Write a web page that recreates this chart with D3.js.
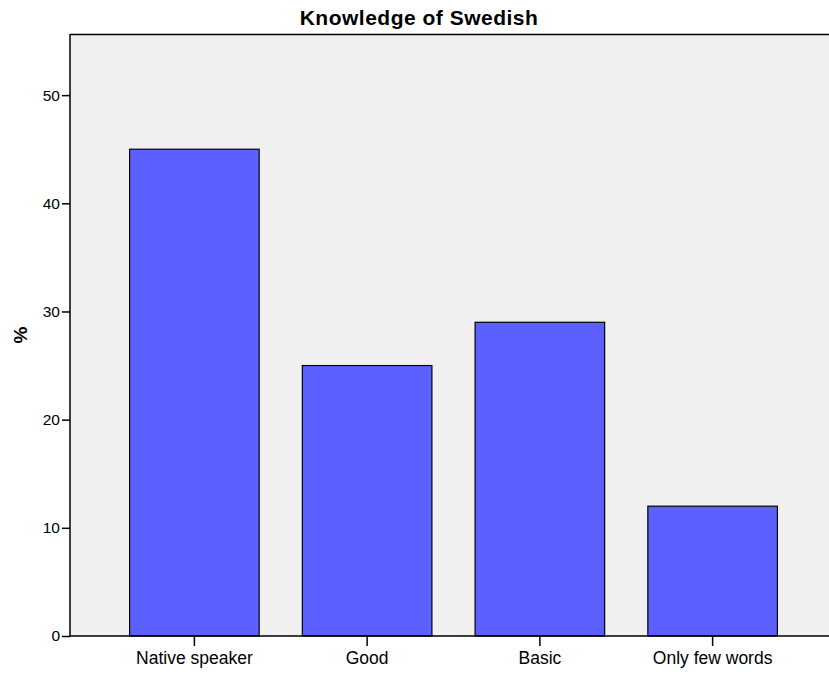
<!DOCTYPE html>
<html><head><meta charset="utf-8">
<script src="https://cdn.jsdelivr.net/npm/d3@7"></script>
<style>body{margin:0;background:#fff;} text{font-family:"Liberation Sans",Arial,sans-serif;}</style>
</head><body>
<svg id="c" width="829" height="675"></svg>
<script>
const categories = ["Native speaker","Good","Basic","Only few words"];
const values = [45, 25, 29, 12];
const yTicks = [0,10,20,30,40,50];

(function(){
const svg = d3.select("#c");
const pL = 70, pT = 34, pB = 636, pR = 837;
const y = d3.scaleLinear().domain([0, 55.65]).range([pB, pT]);
const x = d3.scaleBand().domain(categories).range([pL + 38, pR - 38]).paddingInner(0.25).paddingOuter(0.125);

svg.append("rect").attr("x", pL).attr("y", pT).attr("width", pR-pL).attr("height", pB-pT).attr("fill", "#f0f0f0");
svg.append("line").attr("x1", pL).attr("x2", pR).attr("y1", pT+0.5).attr("y2", pT+0.5).attr("stroke", "#000").attr("stroke-width", 1.3);

svg.selectAll(".bar").data(values).enter().append("rect")
  .attr("x", (d,i)=>x(categories[i]))
  .attr("y", d=>y(d))
  .attr("width", x.bandwidth())
  .attr("height", d=>pB - y(d))
  .attr("fill", "#5c60ff").attr("stroke", "#000").attr("stroke-width", 1.2);

const ya = svg.append("g").attr("transform", `translate(${pL},0)`)
  .call(d3.axisLeft(y).tickValues(yTicks).tickSize(8).tickPadding(2).tickSizeOuter(0));
ya.select(".domain").attr("d", `M0,${pT}V${pB}`).attr("stroke-width", 1.5);
ya.selectAll("text").attr("font-size", 15.5).attr("fill", "#000").style("font-family", "Liberation Sans, Arial, sans-serif");
ya.selectAll(".tick line").attr("stroke-width", 1.5);

const xa = svg.append("g").attr("transform", `translate(0,${pB})`)
  .call(d3.axisBottom(x).tickSize(10).tickPadding(6).tickSizeOuter(0));
xa.select(".domain").attr("d", `M${pL},0H${pR}`).attr("stroke-width", 1.5);
xa.selectAll("text").attr("font-size", 17.5).attr("fill", "#000").style("font-family", "Liberation Sans, Arial, sans-serif");
xa.selectAll(".tick line").attr("stroke-width", 1.5);

svg.append("text").attr("x", 419).attr("y", 25).attr("text-anchor", "middle")
  .attr("font-size", 21).attr("font-weight", "bold").attr("letter-spacing", 0.5).text("Knowledge of Swedish");
svg.append("text").attr("transform", "translate(27,335) rotate(-90)").attr("text-anchor", "middle")
  .attr("font-size", 19).attr("font-weight", "bold").text("%");
})();
</script>
</body></html>
